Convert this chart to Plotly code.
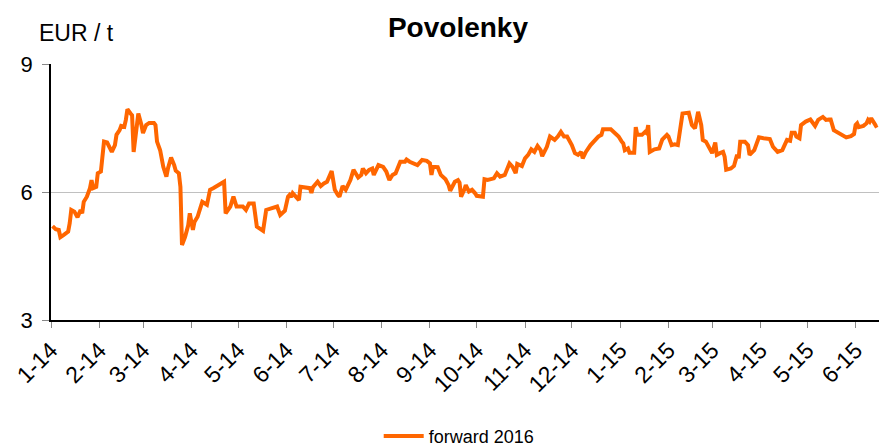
import plotly.graph_objects as go
import pandas as pd

dates = [
    "2014-01-02", "2014-01-04", "2014-01-06", "2014-01-07", "2014-01-09", "2014-01-12", "2014-01-13",
    "2014-01-14", "2014-01-16", "2014-01-18", "2014-01-20", "2014-01-21", "2014-01-22", "2014-01-24",
    "2014-01-26", "2014-01-27", "2014-01-28", "2014-01-30", "2014-01-31", "2014-02-02", "2014-02-04",
    "2014-02-06", "2014-02-09", "2014-02-11", "2014-02-12", "2014-02-14", "2014-02-15", "2014-02-17",
    "2014-02-18", "2014-02-19", "2014-02-21", "2014-02-22", "2014-02-23", "2014-02-24", "2014-02-26",
    "2014-02-28", "2014-03-01", "2014-03-03", "2014-03-05", "2014-03-08", "2014-03-09", "2014-03-10",
    "2014-03-12", "2014-03-14", "2014-03-16", "2014-03-17", "2014-03-19", "2014-03-21", "2014-03-22",
    "2014-03-24", "2014-03-25", "2014-03-26", "2014-03-28", "2014-03-30", "2014-03-31", "2014-04-02",
    "2014-04-03", "2014-04-05", "2014-04-08", "2014-04-11", "2014-04-13", "2014-04-15", "2014-04-22",
    "2014-04-23", "2014-04-26", "2014-04-28", "2014-04-30", "2014-05-04", "2014-05-06", "2014-05-08",
    "2014-05-11", "2014-05-13", "2014-05-17", "2014-05-19", "2014-05-22", "2014-05-26", "2014-05-28",
    "2014-05-31", "2014-06-02", "2014-06-03", "2014-06-04", "2014-06-05", "2014-06-07", "2014-06-09",
    "2014-06-10", "2014-06-13", "2014-06-16", "2014-06-17", "2014-06-18", "2014-06-21", "2014-06-23",
    "2014-06-25", "2014-06-27", "2014-06-30", "2014-07-02", "2014-07-04", "2014-07-05", "2014-07-07",
    "2014-07-09", "2014-07-12", "2014-07-14", "2014-07-17", "2014-07-19", "2014-07-20", "2014-07-22",
    "2014-07-24", "2014-07-26", "2014-07-27", "2014-07-30", "2014-08-02", "2014-08-04", "2014-08-06",
    "2014-08-08", "2014-08-10", "2014-08-13", "2014-08-16", "2014-08-17", "2014-08-19", "2014-08-22",
    "2014-08-24", "2014-08-27", "2014-08-30", "2014-09-01", "2014-09-02", "2014-09-03", "2014-09-06",
    "2014-09-08", "2014-09-11", "2014-09-13", "2014-09-14", "2014-09-17", "2014-09-19", "2014-09-20",
    "2014-09-21", "2014-09-23", "2014-09-24", "2014-09-26", "2014-09-28", "2014-09-30", "2014-10-01",
    "2014-10-05", "2014-10-06", "2014-10-08", "2014-10-12", "2014-10-14", "2014-10-16", "2014-10-19",
    "2014-10-22", "2014-10-24", "2014-10-26", "2014-10-27", "2014-10-30", "2014-11-01", "2014-11-03",
    "2014-11-05", "2014-11-07", "2014-11-09", "2014-11-11", "2014-11-12", "2014-11-15", "2014-11-17",
    "2014-11-20", "2014-11-22", "2014-11-24", "2014-11-26", "2014-11-28", "2014-12-01", "2014-12-03",
    "2014-12-05", "2014-12-07", "2014-12-08", "2014-12-10", "2014-12-13", "2014-12-16", "2014-12-18",
    "2014-12-20", "2014-12-21", "2014-12-26", "2014-12-28", "2014-12-31", "2015-01-02", "2015-01-03",
    "2015-01-04", "2015-01-06", "2015-01-07", "2015-01-10", "2015-01-11", "2015-01-12", "2015-01-15",
    "2015-01-17", "2015-01-18", "2015-01-19", "2015-01-20", "2015-01-23", "2015-01-26", "2015-01-28",
    "2015-01-31", "2015-02-01", "2015-02-03", "2015-02-05", "2015-02-07", "2015-02-09", "2015-02-10",
    "2015-02-14", "2015-02-16", "2015-02-18", "2015-02-20", "2015-02-22", "2015-02-23", "2015-02-25",
    "2015-03-01", "2015-03-03", "2015-03-04", "2015-03-06", "2015-03-08", "2015-03-09", "2015-03-10",
    "2015-03-13", "2015-03-15", "2015-03-17", "2015-03-18", "2015-03-19", "2015-03-22", "2015-03-24",
    "2015-03-25", "2015-03-28", "2015-03-31", "2015-04-03", "2015-04-07", "2015-04-09", "2015-04-12",
    "2015-04-15", "2015-04-18", "2015-04-20", "2015-04-21", "2015-04-23", "2015-04-24", "2015-04-26",
    "2015-04-27", "2015-04-30", "2015-05-03", "2015-05-06", "2015-05-08", "2015-05-11", "2015-05-13",
    "2015-05-15", "2015-05-16", "2015-05-18", "2015-05-21", "2015-05-24", "2015-05-26", "2015-05-29",
    "2015-05-31", "2015-06-01", "2015-06-02", "2015-06-03", "2015-06-06", "2015-06-08", "2015-06-09",
    "2015-06-10", "2015-06-11", "2015-06-12", "2015-06-14", "2015-06-15",
]

forward_2016 = [
    5.20, 5.13, 5.11, 4.94, 4.99, 5.07, 5.27,
    5.58, 5.54, 5.41, 5.58, 5.50, 5.77, 5.89,
    6.09, 6.28, 6.09, 6.12, 6.44, 6.48, 7.18,
    7.16, 6.94, 7.10, 7.34, 7.45, 7.55, 7.53,
    7.69, 7.94, 7.84, 7.80, 6.94, 7.30, 7.84,
    7.57, 7.38, 7.57, 7.62, 7.62, 7.57, 7.18,
    6.98, 6.59, 6.36, 6.55, 6.81, 6.63, 6.50,
    6.44, 6.12, 4.76, 4.95, 5.22, 5.50, 5.11,
    5.30, 5.42, 5.77, 5.70, 6.05, 6.09, 6.24,
    5.50, 5.66, 5.89, 5.66, 5.66, 5.58, 5.73,
    5.73, 5.19, 5.09, 5.58, 5.62, 5.66, 5.46,
    5.56, 5.89, 5.93, 5.88, 5.97, 5.89, 5.81,
    6.12, 6.11, 6.09, 5.98, 6.11, 6.24, 6.14,
    6.20, 6.24, 6.49, 6.05, 5.93, 5.89, 6.14,
    6.05, 6.28, 6.52, 6.34, 6.40, 6.55, 6.44,
    6.52, 6.55, 6.40, 6.63, 6.59, 6.48, 6.28,
    6.40, 6.44, 6.71, 6.71, 6.76, 6.71, 6.67,
    6.63, 6.75, 6.73, 6.67, 6.40, 6.59, 6.58,
    6.40, 6.30, 6.16, 6.03, 6.24, 6.28, 6.22,
    5.89, 6.05, 6.16, 6.01, 6.05, 5.97, 5.91,
    5.89, 6.30, 6.28, 6.32, 6.44, 6.36, 6.40,
    6.67, 6.59, 6.44, 6.66, 6.61, 6.79, 6.87,
    7.00, 6.94, 7.08, 6.98, 6.84, 7.06, 7.30,
    7.22, 7.30, 7.41, 7.30, 7.30, 7.10, 6.91,
    6.87, 6.94, 6.79, 6.94, 7.10, 7.22, 7.30,
    7.34, 7.47, 7.47, 7.40, 7.30, 7.18, 7.14,
    6.98, 7.02, 6.92, 6.92, 7.52, 7.34, 7.34,
    7.41, 7.38, 7.57, 6.94, 7.00, 7.02, 7.23,
    7.34, 7.30, 7.10, 7.12, 7.10, 7.53, 7.84,
    7.86, 7.57, 7.49, 7.88, 7.57, 7.22, 7.18,
    6.91, 7.16, 6.87, 6.91, 6.94, 6.83, 6.52,
    6.55, 6.61, 6.87, 6.79, 7.18, 7.18, 7.10,
    6.87, 6.98, 7.28, 7.26, 7.24, 7.06, 6.94,
    6.98, 7.22, 7.20, 7.39, 7.39, 7.30, 7.26,
    7.57, 7.65, 7.70, 7.55, 7.69, 7.76, 7.69,
    7.70, 7.70, 7.45, 7.39, 7.34, 7.28, 7.31,
    7.36, 7.57, 7.61, 7.52, 7.55, 7.61, 7.69,
    7.65, 7.73, 7.67, 7.55, 7.57,
]

month_ticks = pd.date_range("2014-01-01", "2015-06-01", freq="MS")
month_labels = [f"{d.month}-{d.year % 100}" for d in month_ticks]
y_ticks = [3, 6, 9]

FONT = "Liberation Sans, Arial, sans-serif"
ORANGE = "#FF6600"

fig = go.Figure()
fig.add_trace(go.Scatter(
    x=pd.to_datetime(dates), y=forward_2016, mode="lines", name="forward 2016",
    line=dict(color=ORANGE, width=4),
))

fig.update_layout(
    width=879, height=456,
    margin=dict(l=51, r=0, t=64, b=136),
    paper_bgcolor="white", plot_bgcolor="white",
    font=dict(family=FONT, color="black"),
    title=dict(text="<b>Povolenky</b>", x=0.521, xanchor="center", y=0.941, yanchor="middle",
               font=dict(size=28, family=FONT, color="black")),
    showlegend=True,
    legend=dict(orientation="h", x=0.493, xanchor="center", y=-0.527, yanchor="bottom",
                font=dict(size=18, family=FONT), itemwidth=40),
    annotations=[dict(text="EUR / t", xref="paper", yref="paper", x=-0.017, y=1.122,
                      xanchor="left", yanchor="middle", showarrow=False,
                      font=dict(size=23, family=FONT, color="black"))],
    xaxis=dict(
        range=["2014-01-01", "2015-06-16"],
        tickmode="array", tickvals=list(month_ticks), ticktext=month_labels, tickangle=-45,
        tickfont=dict(size=23, family=FONT, color="black"),
        showgrid=False, showline=True, linecolor="black", linewidth=1.5,
        ticks="outside", ticklen=6, tickcolor="#888888", zeroline=False,
        automargin=False,
    ),
    xaxis2=dict(overlaying="x", side="top", matches="x", showline=True,
                linecolor="#8c8c8c", linewidth=1.5, showticklabels=False,
                tickvals=[], ticks="", showgrid=False, zeroline=False, automargin=False),
    yaxis=dict(
        range=[3, 9], tickmode="array", tickvals=y_ticks, ticktext=[str(v) for v in y_ticks],
        tickfont=dict(size=22, family=FONT, color="black"),
        showgrid=True, gridcolor="#C0C0C0", gridwidth=1,
        showline=True, linecolor="black", linewidth=1.5,
        ticks="outside", ticklen=7, tickcolor="#888888", zeroline=False,
        ticklabelstandoff=5, automargin=False,
    ),
)

fig.write_html("out.html", config={"displayModeBar": False},
               post_script="document.body.style.margin='0';document.body.style.overflow='hidden';")
